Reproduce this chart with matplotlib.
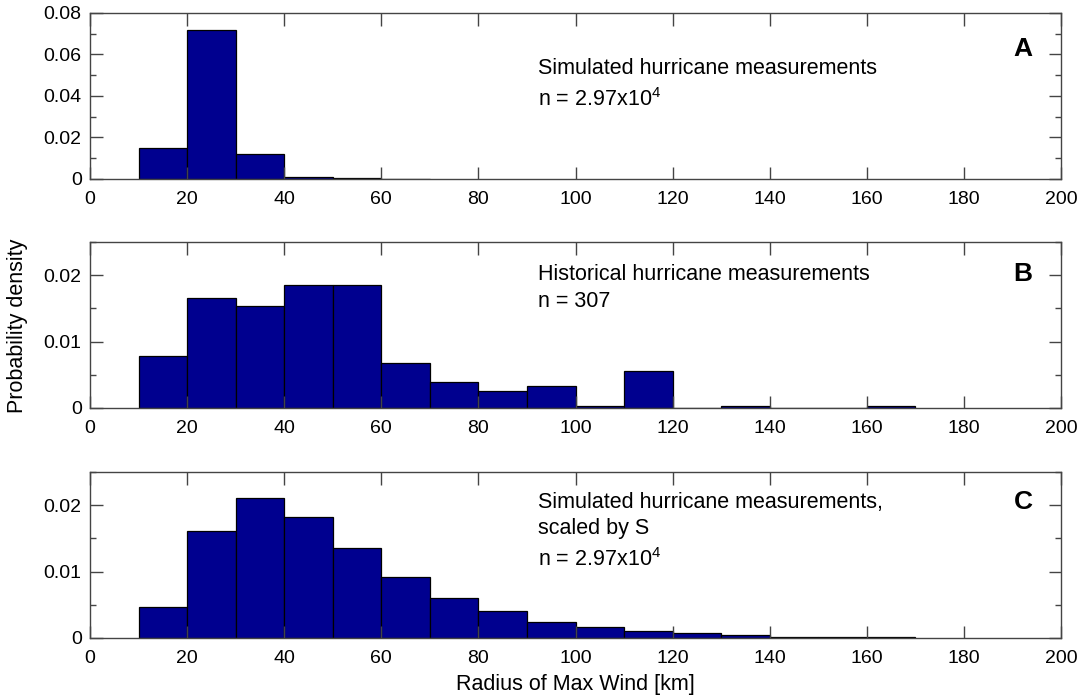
import numpy as np
import matplotlib
matplotlib.use('Agg')
import matplotlib.pyplot as plt
from matplotlib.ticker import MultipleLocator

plt.rcParams['font.family'] = ['Liberation Sans', 'DejaVu Sans']
plt.rcParams['mathtext.fontset'] = 'custom'
plt.rcParams['mathtext.rm'] = 'Liberation Sans'
plt.rcParams['mathtext.default'] = 'regular'

# left edges of the 10 km bins of radius of maximum wind
bin_left = np.arange(10, 170, 10)

# simulated storms, probability density per bin (bins 10-70 km)
sim_density = [0.0147, 0.0719, 0.0120, 0.0008, 0.0003, 0.0002]

# historical storms, counts per bin (n = 307)
hist_counts = [24, 51, 47, 57, 57, 21, 12, 8, 10, 1, 17, 0, 1, 0, 0, 1]
n_hist = 307

# simulated storms scaled by S, probability density per bin
scaled_density = [0.00465, 0.01605, 0.0210, 0.01824, 0.01347, 0.00912,
                  0.00608, 0.00405, 0.00245, 0.00172, 0.00111, 0.0008,
                  0.0005, 0.0002, 0.0001, 0.0001]

hist_density = np.array(hist_counts) / (n_hist * 10.0)

bar_color = '#00008F'
frame_color = '#444444'

fig = plt.figure(figsize=(10.83, 6.98), dpi=100)
left, width, height = 0.0831, 0.8966, 0.238
bottoms = [0.7436, 0.4155, 0.086]

panels = [
    (sim_density, 0.08, 0.02, 0.01, 'A',
     ['Simulated hurricane measurements', r'n = 2.97x10$^4$'],
     [0.665, 0.478], 0.784),
    (hist_density, 0.025, 0.01, 0.005, 'B',
     ['Historical hurricane measurements', 'n = 307'],
     [0.806, 0.642], 0.806),
    (scaled_density, 0.025, 0.01, 0.005, 'C',
     ['Simulated hurricane measurements,', 'scaled by S', r'n = 2.97x10$^4$'],
     [0.818, 0.661, 0.47], 0.818),
]

axes = []
for bottom, (vals, ymax, major, minor, tag, lines, ys, tag_y) in zip(bottoms, panels):
    ax = fig.add_axes([left, bottom, width, height])
    ax.bar(bin_left[:len(vals)], vals, width=10, align='edge', color=bar_color,
           edgecolor='black', linewidth=0.9)
    ax.set_xlim(0, 200)
    ax.set_ylim(0, ymax)
    ax.xaxis.set_major_locator(MultipleLocator(20))
    ax.yaxis.set_major_locator(MultipleLocator(major))
    ax.yaxis.set_minor_locator(MultipleLocator(minor))
    ax.yaxis.set_major_formatter(plt.FuncFormatter(lambda v, p: '0' if v == 0 else '%g' % v))
    ax.tick_params(which='both', direction='in', top=True, right=True,
                   labelsize=14, color=frame_color, width=1)
    ax.tick_params(which='major', length=9, pad=6)
    ax.tick_params(axis='x', which='major', pad=9)
    ax.tick_params(which='minor', length=4.5)
    for sp in ax.spines.values():
        sp.set_color(frame_color)
        sp.set_linewidth(1)
    for txt, yy in zip(lines, ys):
        ax.text(92.3, yy, txt, transform=ax.get_xaxis_transform(),
                fontsize=15.5, va='center', ha='left')
    ax.text(192.2, tag_y, tag, transform=ax.get_xaxis_transform(),
            fontsize=19, fontweight='bold', ha='center', va='center')
    axes.append(ax)

axes[-1].set_xlabel('Radius of Max Wind [km]', fontsize=15.5, labelpad=5)
fig.text(0.016, 0.533, 'Probability density', rotation=90,
         fontsize=15.5, ha='center', va='center')

fig.savefig('out.png', dpi=100)
